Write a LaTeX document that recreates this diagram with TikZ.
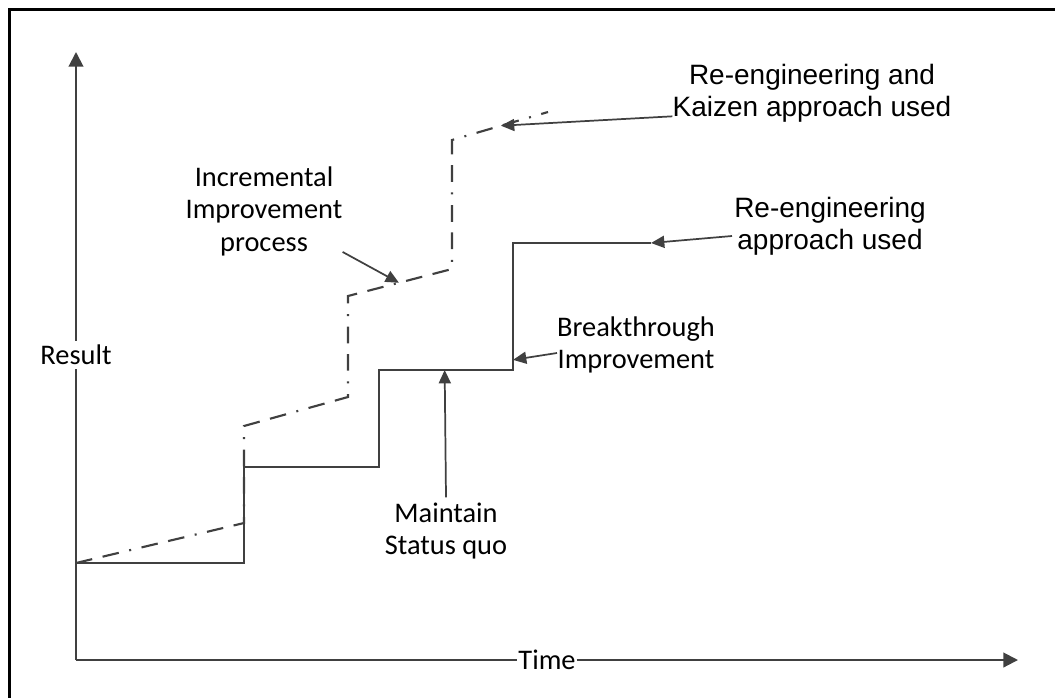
\documentclass[tikz,border=0pt]{standalone}
\usepackage{fontspec}
\setmainfont{Carlito}
\newfontfamily\arialfont{Liberation Sans}
\usetikzlibrary{arrows.meta,calc}
\definecolor{inkgray}{HTML}{404040}

\begin{document}
\begin{tikzpicture}[x=0.75pt,y=-0.75pt,
  frameline/.style={draw=black,line width=2.25pt},
  axisline/.style={draw=inkgray,line width=1.5pt,-{Triangle[length=11pt,width=11pt]}},
  stepline/.style={draw=inkgray,line width=1.6pt,line join=miter},
  kaizenline/.style={draw=inkgray,line width=1.6pt,
    dash pattern=on 12.5pt off 8pt on 12.5pt off 8pt on 1.5pt off 8pt},
  pointer/.style={draw=inkgray,line width=1.3pt,-{Triangle[length=10pt,width=9pt]}},
  calibri/.style={font=\fontsize{21.3}{24.4}\selectfont,align=center,inner sep=0pt},
  arial/.style={font=\arialfont\fontsize{21}{24}\selectfont,align=center,inner sep=0pt},
  axislabel/.style={font=\fontsize{21.3}{24.4}\selectfont,fill=white}
]
\useasboundingbox (0,0) rectangle (1055,697);

% outer frame (open to the right and bottom)
\draw[frameline] (1060,9) -- (9,9) -- (9,702);

% axes
\coordinate (origin) at (76,660);
\coordinate (ytop) at (76,52);
\coordinate (xend) at (1018,660);
\node[axislabel,inner sep=3pt] (result) at (76,355) {Result};
\node[axislabel,inner xsep=0.5pt,inner ysep=1pt] (time) at (547,660) {Time};
\draw[draw=inkgray,line width=1.5pt] (origin) -- (result);
\draw[axisline] (result) -- (ytop);
\draw[draw=inkgray,line width=1.5pt] (origin) -- (time);
\draw[axisline] (time) -- (xend);

% re-engineering only: staircase
\draw[stepline] (76,563) -- (244,563) -- (244,467) -- (379,467) -- (379,370)
  -- coordinate[pos=0.49] (statusquo) (513,370)
  -- coordinate[pos=0.08] (breakthrough) (513,243) -- (651,243) coordinate (reengend);

% re-engineering combined with kaizen: rising dash-dot staircase
\draw[kaizenline] (76,563) -- (244,523) -- (244,426) -- (348,397) -- (348,296)
  -- coordinate[pos=0.49] (incrtip) (452,269) -- (452,140)
  -- coordinate[pos=0.51] (kaizentip) (548,112);

% annotations
\node[arial] (kaizen) at (812,93) {Re-engineering and\\Kaizen approach used};
\node[arial] (reeng) at (830,226) {Re-engineering\\approach used};
\node[calibri] (incr) at (264,211) {Incremental\\Improvement\\process};
\node[calibri] (brk) at (636,345) {Breakthrough\\Improvement};
\node[calibri] (maint) at (446,531) {Maintain\\Status quo};

\draw[pointer] ($(kaizen.south west)+(0,-6)$) -- (kaizentip);
\draw[pointer] ($(reeng.west)+(-2,10)$) -- (reengend);
\draw[pointer] ($(incr.south east)+(0,-4)$) -- (incrtip);
\draw[pointer] ($(brk.west)+(0,8)$) -- (breakthrough);
\draw[pointer] ($(maint.north)+(0,-5)$) -- (statusquo);
\end{tikzpicture}
\end{document}
